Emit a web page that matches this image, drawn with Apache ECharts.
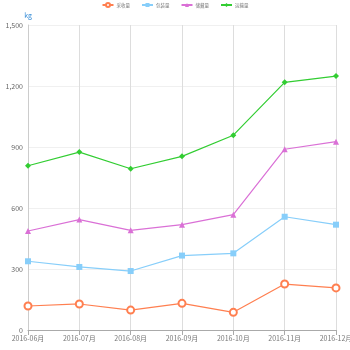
<!DOCTYPE html>
<html><head><meta charset="utf-8">
<script src="https://cdn.jsdelivr.net/npm/echarts@6/dist/echarts.min.js"></script>
<style>html,body{margin:0;padding:0;background:#fff}#c{width:350px;height:350px}</style>
</head><body><div id="c"></div>
<script>
const categories = ['2016-06月','2016-07月','2016-08月','2016-09月','2016-10月','2016-11月','2016-12月'];
const seriesNames = ['采收量','包装量','储藏量','运输量'];
const harvest = [118, 128, 98, 131, 87, 226, 207];
const packing = [338, 310, 290, 366, 377, 557, 518];
const storage = [487, 543, 490, 518, 567, 889, 926];
const transport = [808, 875, 793, 854, 958, 1218, 1249];
const yTicks = [0, 300, 600, 900, 1200, 1500];

const colors = ['#FF7F50','#87CEFA','#DA70D6','#32CD32'];
const symbols = ['emptyCircle','rect','triangle','diamond'];
const symSizes = [7,6,6,6];
const data = [harvest, packing, storage, transport];

const chart = echarts.init(document.getElementById('c'));
chart.setOption({
  animation:false,
  color: colors,
  textStyle:{fontFamily:'"Noto Sans CJK SC", sans-serif'},
  legend:{
    top:2, left:'center', itemWidth:11, itemHeight:5, itemGap:11, padding:0,
    textStyle:{fontSize:4.5, color:'#777', padding:[0,0,0,-2]},
    data: seriesNames
  },
  grid:{left:28, right:14, top:25, bottom:20, outerBoundsMode:'none', containLabel:false},
  xAxis:{
    type:'category', boundaryGap:false, data:categories,
    axisLine:{lineStyle:{color:'#aaa'}},
    axisTick:{show:true, alignWithLabel:true, lineStyle:{color:'#aaa'}},
    axisLabel:{fontSize:7, color:'#777', interval:0, margin:5},
    splitLine:{show:true, lineStyle:{color:'#ddd'}}
  },
  yAxis:{
    type:'value', min:0, max:1500, interval:300,
    name:'kg', nameGap:6, nameTextStyle:{fontSize:7, color:'#3a8fd8', align:'center'},
    axisLine:{show:true, lineStyle:{color:'#ccc'}},
    axisTick:{show:false},
    axisLabel:{fontSize:7, color:'#666', margin:5},
    splitLine:{show:true, lineStyle:{color:'#f0f0f0'}}
  },
  series: seriesNames.map((n,i)=>({
    name:n, type:'line', data:data[i],
    symbol:symbols[i], symbolSize:symSizes[i], showAllSymbol:true,
    lineStyle:{width:1.2, color:colors[i]},
    itemStyle:{color:colors[i], borderWidth: i===0 ? 1 : 0}
  }))
});
</script></body></html>
